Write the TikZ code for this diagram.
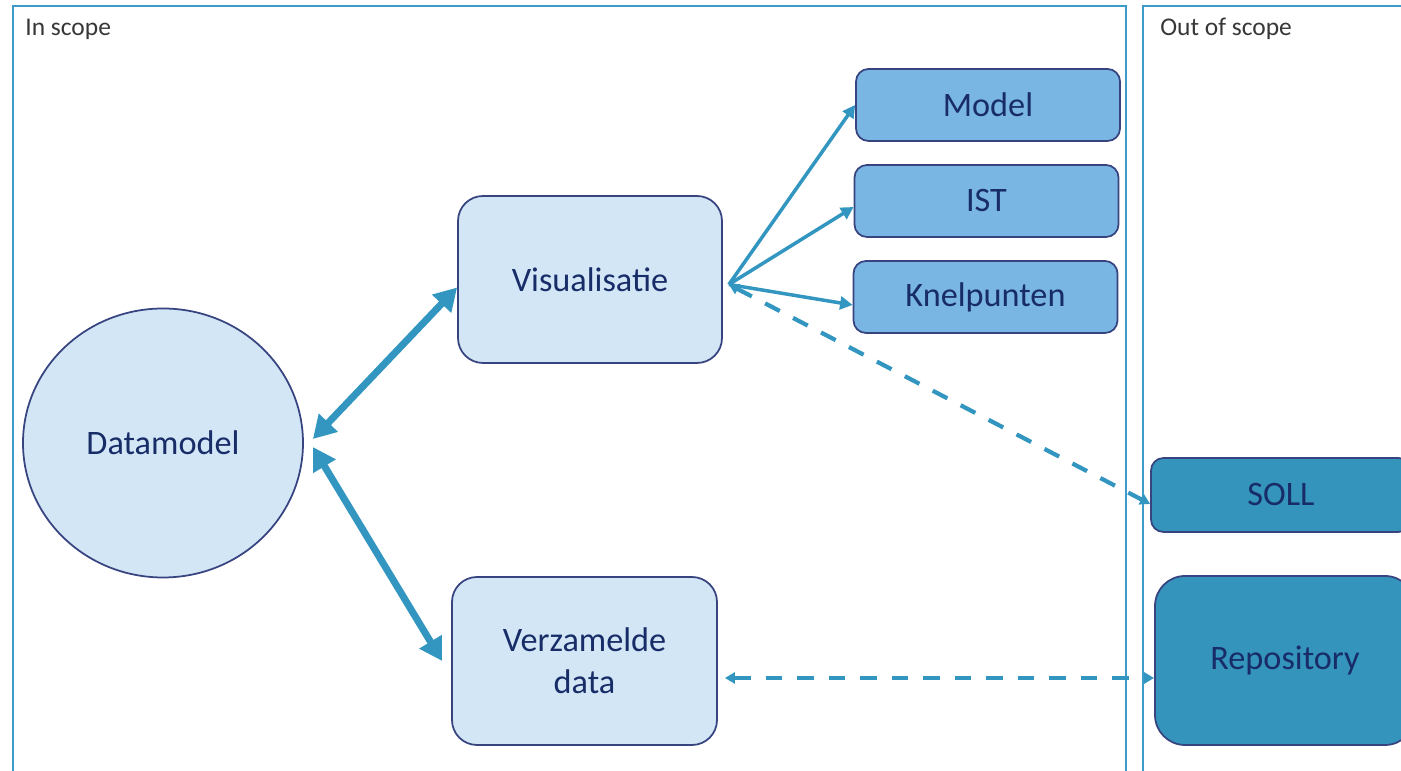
\documentclass[tikz,border=0pt]{standalone}
\usepackage{fontspec}
\setmainfont{Carlito}
\usepackage{tikz}
\usetikzlibrary{arrows.meta, shapes.geometric, positioning}
\definecolor{framecol}{RGB}{62,155,200}
\definecolor{arrowcol}{RGB}{50,150,192}
\definecolor{lightfill}{RGB}{210,230,246}
\definecolor{midfill}{RGB}{122,182,228}
\definecolor{darkfill}{RGB}{52,148,188}
\definecolor{edgecol}{RGB}{55,68,128}
\definecolor{textcol}{RGB}{24,44,104}
\definecolor{titlecol}{RGB}{55,55,55}

\begin{document}
\begin{tikzpicture}[
    frame/.style={line width=1.6pt, framecol},
    title/.style={anchor=base west, inner sep=0pt, text=titlecol, font=\fontsize{14.5}{17}\selectfont},
    box/.style={draw=edgecol, line width=1pt, text=textcol, font=\fontsize{19.5}{24}\selectfont, align=center},
    bigbox/.style={box, fill=lightfill, rounded corners=0.5cm, minimum width=5.28cm, minimum height=3.34cm},
    smallbox/.style={box, fill=midfill, rounded corners=0.25cm, minimum width=5.28cm, minimum height=1.44cm},
    outbox/.style={box, fill=darkfill, rounded corners=0.25cm, minimum width=5.2cm, minimum height=1.48cm},
    thick link/.style={<->, line width=4pt, arrowcol, >={Triangle[length=0.45cm, width=0.5cm]}},
    thin link/.style={->, line width=2pt, arrowcol, >={Triangle[length=0.25cm, width=0.26cm]}},
    dash link/.style={<->, line width=2.4pt, arrowcol, dash pattern=on 0.33cm off 0.3cm, >={Triangle[length=0.2cm, width=0.22cm]}}
]
\useasboundingbox (0,0) rectangle (28.02,15.42);

\draw [frame] (0.26,-0.3) -- (0.26,15.30) -- (22.52,15.30) -- (22.52,-0.3);
\draw [frame] (22.86,-0.3) -- (22.86,15.30) -- (28.4,15.30);
\node [title] (inscope) at (0.5,14.70) {In scope};
\node [title] (outscope) at (23.20,14.70) {Out of scope};

\node [box, ellipse, fill=lightfill, minimum width=5.6cm, minimum height=5.38cm] (datamodel) at (3.26,6.56) {Datamodel};
\node [bigbox] (visual) at (11.80,9.83) {Visualisatie};
\node [bigbox, minimum width=5.3cm, minimum height=3.36cm] (verzameld) at (11.69,2.20) {Verzamelde\\data};
\node [smallbox] (model) at (19.76,13.32) {Model};
\node [smallbox] (ist) at (19.73,11.40) {IST};
\node [smallbox] (knelpunten) at (19.71,9.48) {Knelpunten};
\node [outbox] (soll) at (25.62,5.52) {SOLL};
\node [outbox, rounded corners=0.6cm, minimum height=3.38cm] (repository) at (25.70,2.21) {Repository};

\coordinate (hub) at ([xshift=0.12cm,yshift=-0.1cm]visual.east);

\draw [thick link] ([xshift=0.18cm,yshift=0.08cm]datamodel.east) -- ([yshift=-0.16cm]visual.west);
\draw [thick link] ([xshift=0.18cm,yshift=-0.08cm]datamodel.east) -- ([xshift=-0.18cm]verzameld.west);
\draw [thin link] (hub) -- (model.west);
\draw [thin link] (hub) -- ([yshift=-0.12cm]ist.west);
\draw [thin link] (hub) -- ([yshift=-0.16cm]knelpunten.west);
\draw [dash link] (hub) -- ([yshift=-0.18cm]soll.west);
\draw [dash link] ([xshift=0.14cm,yshift=-0.34cm]verzameld.east) -- ([yshift=-0.35cm]repository.west);
\end{tikzpicture}
\end{document}
